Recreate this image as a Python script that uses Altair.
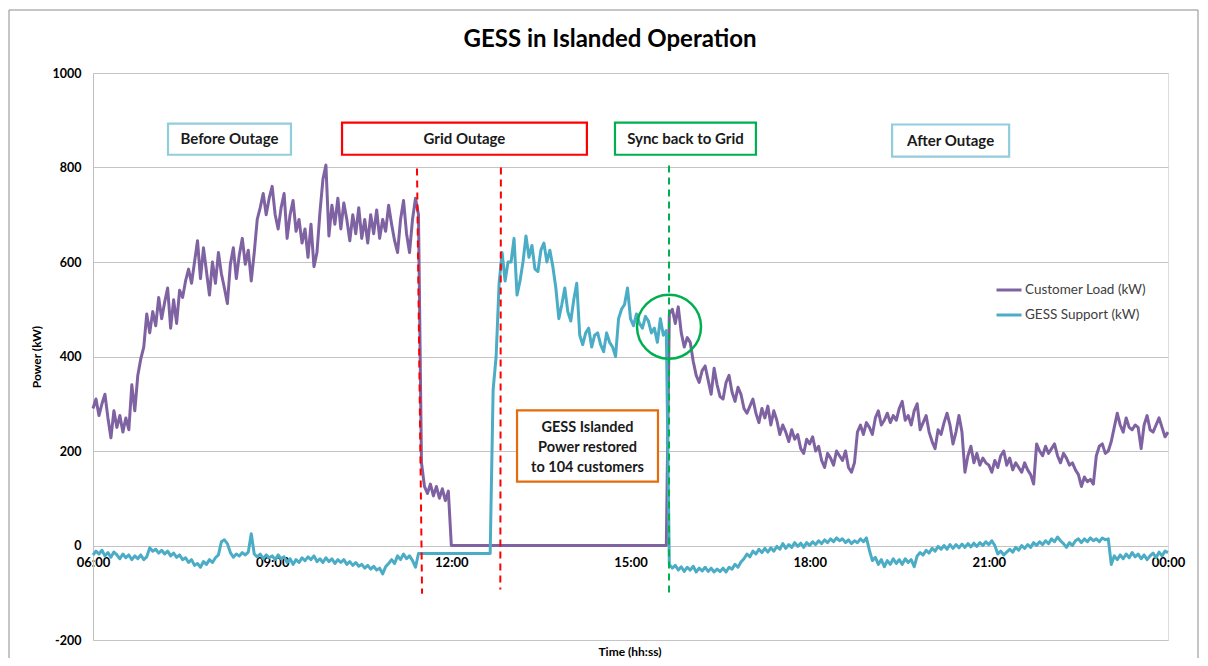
import altair as alt
import pandas as pd

FONT = "Lato"
TITLE = "GESS in Islanded Operation"
SERIES = ["Customer Load (kW)", "GESS Support (kW)"]
COLORS = ["#7f62a1", "#4bacc6"]
START_HOUR = 6
STEP_MIN = 3

# 3-minute samples from 06:00 to 24:00 (361 values)
customer_load = [
    290, 310, 275, 300, 320, 270, 228, 285, 250, 275,
    240, 270, 245, 340, 285, 360, 395, 420, 490, 450,
    495, 465, 525, 480, 515, 545, 460, 520, 470, 540,
    525, 560, 585, 555, 600, 645, 565, 630, 580, 530,
    600, 555, 620, 575, 545, 512, 595, 630, 565, 615,
    650, 595, 625, 560, 620, 690, 715, 745, 700, 735,
    760, 700, 670, 715, 745, 650, 700, 730, 665, 690,
    640, 670, 610, 680, 590, 620, 705, 775, 805, 655,
    720, 680, 735, 670, 725, 690, 645, 700, 660, 715,
    650, 690, 640, 700, 660, 710, 650, 690, 665, 720,
    680, 645, 620, 690, 730, 660, 620, 690, 735, 700,
    175, 125, 110, 130, 105, 125, 100, 120, 95, 115,
    0, 0, 0, 0, 0, 0, 0, 0, 0, 0,
    0, 0, 0, 0, 0, 0, 0, 0, 0, 0,
    0, 0, 0, 0, 0, 0, 0, 0, 0, 0,
    0, 0, 0, 0, 0, 0, 0, 0, 0, 0,
    0, 0, 0, 0, 0, 0, 0, 0, 0, 0,
    0, 0, 0, 0, 0, 0, 0, 0, 0, 0,
    0, 0, 0, 0, 0, 0, 0, 0, 0, 0,
    0, 0, 0,
    490, 500, 470, 505, 450, 420, 440,
    430, 390, 360, 345, 370, 380, 350, 320, 375, 340,
    315, 310, 345, 360, 325, 305, 335, 320, 290, 280,
    295, 310, 280, 260, 290, 270, 295, 255, 285, 265,
    235, 255, 240, 220, 245, 225, 235, 205, 195, 225,
    215, 230, 200, 210, 180, 165, 195, 185, 170, 200,
    190, 180, 200, 165, 155, 175, 240, 255, 235, 260,
    250, 235, 270, 285, 255, 265, 280, 260, 275, 265,
    290, 305, 265, 275, 255, 285, 300, 245, 260, 275,
    240, 220, 205, 245, 235, 260, 280, 255, 215, 240,
    275, 240, 155, 190, 210, 175, 195, 170, 185, 175,
    170, 155, 180, 165, 190, 200, 170, 185, 160, 175,
    165, 155, 175, 160, 150, 130, 215, 200, 190, 210,
    195, 205, 215, 190, 175, 195, 185, 170, 175, 160,
    150, 125, 145, 135, 140, 130, 190, 210, 215, 195,
    200, 220, 250, 280, 255, 240, 270, 250, 245, 255,
    250, 205, 255, 275, 245, 240, 255, 270, 250, 230, 240,
]

gess_support = [
    -20, -12, -18, -10, -22, -15, -25, -14, -20, -28,
    -18, -26, -20, -30, -22, -28, -20, -30, -24, -5,
    -12, -8, -16, -10, -18, -12, -22, -16, -25, -20,
    -30, -26, -36, -30, -42, -38, -46, -34, -40, -30,
    -36, -26, -20, 8, 12, 4, -15, -25, -18, -22,
    -15, -20, -14, 25, -18, -24, -18, -28, -20, -26,
    -22, -30, -20, -28, -24, -36, -28, -40, -30, -36,
    -26, -32, -24, -30, -22, -34, -28, -36, -26, -34,
    -28, -38, -30, -36, -30, -40, -34, -42, -36, -44,
    -40, -48, -42, -50, -44, -52, -48, -60, -45, -38,
    -30, -38, -22, -30, -18, -28, -22, -32, -46,
    -17, -17, -17, -17, -17, -17, -17, -17, -17, -17,
    -17, -17, -17, -17, -17, -17, -17, -17, -17, -17,
    -17, -17, -17, -17, -17,
    330, 400, 555, 620, 560, 600,
    600, 650, 530, 560, 600, 655, 610, 635, 585, 580,
    625, 640, 600, 625, 590, 545, 480, 510, 545, 495,
    475, 520, 555, 445, 425, 450, 460, 420, 445, 450,
    425, 410, 450, 430, 420, 400, 480, 500, 510, 545,
    480, 465, 490, 470, 460, 485, 475, 450, 460, 430,
    480, 445, 455,
    -40, -48, -42, -52, -45, -55, -46,
    -52, -44, -56, -48, -54, -46, -55, -48, -56, -50,
    -55, -48, -56, -46, -50, -40, -46, -35, -28, -18,
    -24, -12, -18, -8, -15, -6, -14, -5, -12, -2,
    -8, 4, -6, 2, -4, 6, -2, 5, -4, 6,
    0, 8, 2, 10, 4, 12, 6, 14, 8, 16,
    10, 14, 6, 12, 4, 10, 6, 14, 8, 16,
    -10, -32, -25, -40, -30, -45, -32, -40, -28, -38,
    -30, -40, -28, -36, -30, -45, -22, -15, -20, -10,
    -16, -6, -12, -2, -8, 0, -8, 2, -6, 2,
    -5, 3, -4, 4, -3, 5, -2, 6, 0, 8,
    2, 10, 0, -18, -12, -20, -14, -8, -14, -4,
    -10, 0, -6, 2, -4, 6, 0, 8, 2, 10,
    4, 14, 8, 18, 10, 4, -4, 6, 0, 10,
    14, 6, 14, 8, 16, 10, 14, 8, 16, 12,
    14, -40, -22, -30, -20, -28, -18, -26, -15, -24,
    -18, -28, -20, -30, -22, -16, -26, -14, -22, -12, -15,
]

x_tick_values = [6, 9, 12, 15, 18, 21, 24]
x_tick_labels = ["06:00", "09:00", "12:00", "15:00", "18:00", "21:00", "00:00"]
y_tick_values = [-200, 0, 200, 400, 600, 800, 1000]

# annotation boxes (hours / kW)
box_labels = ["Before Outage", "Grid Outage", "Sync back to Grid", "After Outage"]
box_t0 = [7.256, 10.17, 14.74, 19.38]
box_t1 = [9.315, 14.27, 17.10, 21.34]
box_v0 = [827, 827, 827, 823]
box_v1 = [893, 895, 895, 891]
box_colors = ["#92cddc", "#ff0000", "#00b050", "#92cddc"]

# dashed event markers
mark_t0 = [11.425, 12.83, 15.645]
mark_t1 = [11.51, 12.82, 15.645]
mark_v0 = [798, 800, 804]
mark_v1 = [-102, -93, -106]
mark_colors = ["#ff0000", "#ff0000", "#00b050"]

note_text = "GESS Islanded\nPower restored\nto 104 customers"
note_t = [13.10, 15.46]
note_v = [135, 286]
circle_t = 15.645
circle_v = 463

rows = []
for name, vals in zip(SERIES, [customer_load, gess_support]):
    for i, v in enumerate(vals):
        rows.append({"series": name, "t": START_HOUR + i * STEP_MIN / 60.0, "v": v})
df = pd.DataFrame(rows)

xs = alt.Scale(domain=[6, 24], nice=False, zero=False)
ys = alt.Scale(domain=[-200, 1000], nice=False, zero=False)

label_expr = " : ".join(
    [f"datum.value == {v} ? '{l}'" for v, l in zip(x_tick_values, x_tick_labels)]
) + " : ''"

W, H = 1075, 567

border = alt.Chart(pd.DataFrame({"a": [0]})).mark_rect(
    fillOpacity=0, stroke="#8c8c8c", strokeWidth=1
).encode(x=alt.value(-84), x2=alt.value(1105), y=alt.value(-63), y2=alt.value(620))

lines = alt.Chart(df).mark_line(strokeWidth=3, strokeJoin="round").encode(
    x=alt.X("t:Q", scale=xs, axis=alt.Axis(
        values=x_tick_values, labelExpr=label_expr, title="", grid=False,
        domain=False, ticks=False, offset=-94.5, labelPadding=11,
        labelFlush=False, labelOverlap=False, labelFontWeight="bold",
        labelFontSize=13, labelColor="#000000", labelFont=FONT)),
    y=alt.Y("v:Q", scale=ys, axis=alt.Axis(
        values=y_tick_values, labelExpr="'' + datum.value", title="Power (kW)",
        grid=True, gridColor="#c4c4c4",
        gridWidth=1, domainColor="#bfbfbf", ticks=False, labelPadding=12,
        labelFontWeight="bold", labelFontSize=12.5, labelColor="#000000",
        labelFont=FONT, titleFont=FONT, titleFontWeight="bold", titleFontSize=12,
        titleColor="#000000", titlePadding=9)),
    color=alt.Color("series:N", scale=alt.Scale(domain=SERIES, range=COLORS),
                    legend=alt.Legend(orient="none", legendX=902, legendY=203,
                                      title=None, symbolType="stroke", symbolSize=625,
                                      symbolStrokeWidth=3, labelFontSize=13.5,
                                      labelFont=FONT, labelColor="#404040",
                                      rowPadding=4, labelOffset=2, padding=0)),
)

mdf = pd.DataFrame({"t0": mark_t0, "t1": mark_t1, "v0": mark_v0, "v1": mark_v1, "c": mark_colors})
markers = alt.Chart(mdf).mark_rule(strokeDash=[7, 5], strokeWidth=2).encode(
    x=alt.X("t0:Q", scale=xs), x2="t1:Q",
    y=alt.Y("v0:Q", scale=ys), y2="v1:Q",
    color=alt.Color("c:N", scale=None),
)

bdf = pd.DataFrame({"label": box_labels, "t0": box_t0, "t1": box_t1, "v0": box_v0,
                    "v1": box_v1, "c": box_colors})
bdf["tm"] = (bdf["t0"] + bdf["t1"]) / 2
bdf["vm"] = (bdf["v0"] + bdf["v1"]) / 2
boxes = alt.Chart(bdf).mark_rect(fill="white", strokeWidth=2.2).encode(
    x=alt.X("t0:Q", scale=xs), x2="t1:Q",
    y=alt.Y("v0:Q", scale=ys), y2="v1:Q",
    stroke=alt.Stroke("c:N", scale=None),
)
box_text = alt.Chart(bdf).mark_text(font=FONT, fontWeight="bold", fontSize=15,
                                    color="#1a1a1a", baseline="middle").encode(
    x=alt.X("tm:Q", scale=xs), y=alt.Y("vm:Q", scale=ys),
    text="label:N",
)

ndf = pd.DataFrame({"t0": [note_t[0]], "t1": [note_t[1]], "v0": [note_v[0]],
                    "v1": [note_v[1]], "tm": [sum(note_t) / 2], "vm": [sum(note_v) / 2],
                    "txt": [note_text]})
note_box = alt.Chart(ndf).mark_rect(fill="white", stroke="#e46c0a", strokeWidth=2.2).encode(
    x=alt.X("t0:Q", scale=xs), x2="t1:Q",
    y=alt.Y("v0:Q", scale=ys), y2="v1:Q",
)
note_txt = alt.Chart(ndf).mark_text(font=FONT, fontWeight="bold", fontSize=14.5,
                                    lineBreak="\n", lineHeight=20, color="#1a1a1a",
                                    baseline="middle", dy=-18).encode(
    x=alt.X("tm:Q", scale=xs), y=alt.Y("vm:Q", scale=ys),
    text="txt:N",
)

circle = alt.Chart(pd.DataFrame({"t": [circle_t], "v": [circle_v]})).mark_point(
    shape="circle", size=4096, filled=False, strokeWidth=2.5, color="#00b050", opacity=1
).encode(x=alt.X("t:Q", scale=xs), y=alt.Y("v:Q", scale=ys))

title = alt.Chart(pd.DataFrame({"s": [TITLE]})).mark_text(
    font=FONT, fontWeight="bold", fontSize=24, color="#000000", baseline="middle"
).encode(x=alt.value(517), y=alt.value(-33), text="s:N")

xtitle = alt.Chart(pd.DataFrame({"s": ["Time (hh:ss)"]})).mark_text(
    font=FONT, fontWeight="bold", fontSize=12, color="#000000", baseline="middle"
).encode(x=alt.value(537), y=alt.value(579), text="s:N")

chart = alt.layer(
    border, lines, markers, boxes, box_text, note_box, note_txt, circle, title, xtitle
).properties(
    width=W, height=H,
    autosize=alt.AutoSizeParams(type="none"),
    padding={"left": 85, "top": 65, "right": 32, "bottom": 18},
    background="white",
).configure_view(strokeWidth=0, strokeOpacity=0).configure(font=FONT)

chart.save("out.html", embed_options={"renderer": "svg", "actions": False})
